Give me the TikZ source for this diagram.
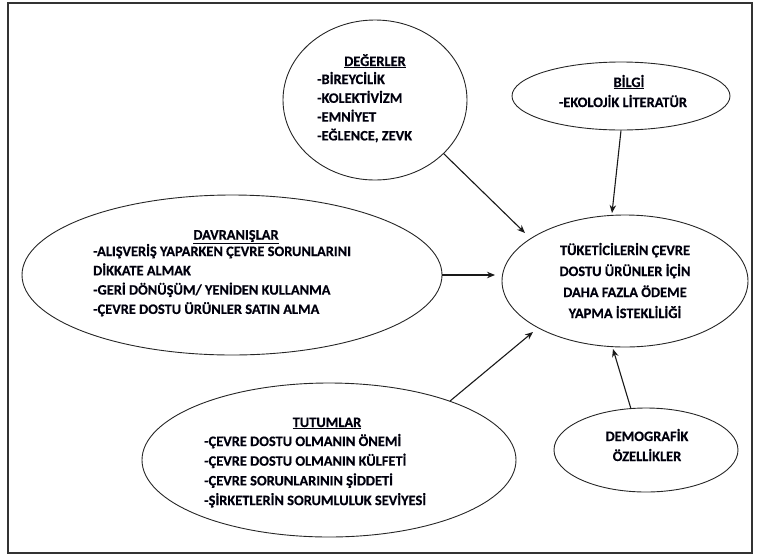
\documentclass[tikz,border=0pt]{standalone}
\usepackage{fontspec}
\setmainfont{Carlito}[BoldFeatures={FakeBold=0.5}]
\usetikzlibrary{shapes.geometric,arrows.meta}
\begin{document}
\begin{tikzpicture}[x=1pt,y=-1pt,
  bubble/.style={draw=black!85, line width=0.9pt, ellipse, inner sep=0pt},
  txt/.style={font=\fontsize{14.4}{17}\selectfont\bfseries, inner sep=0pt, text=black!95!blue},
  item/.style={txt, anchor=base west},
  head/.style={txt, anchor=base},
  link/.style={line width=1.1pt, draw=black!90, -{Stealth[length=8pt,width=6.5pt]}}]

\useasboundingbox (0,0) rectangle (761,558);
\draw[line width=1.6pt, black!80] (8,3) rectangle (752,553);

% ellipses
\node[bubble, minimum width=184pt, minimum height=160pt] (deg) at (375,100) {};
\node[bubble, minimum width=218pt, minimum height=68pt]  (bil) at (621,96) {};
\node[bubble, minimum width=420pt, minimum height=160pt] (dav) at (232,275) {};
\node[bubble, minimum width=246pt, minimum height=132pt] (cen) at (625,281) {};
\node[bubble, minimum width=374pt, minimum height=154pt] (tut) at (329,460) {};
\node[bubble, minimum width=184pt, minimum height=84pt]  (dem) at (646,450) {};

% arrow tips near the central ellipse
\coordinate (tipDeg) at (525,233);
\coordinate (tipBil) at (612,213);
\coordinate (tipDav) at (495,275);
\coordinate (tipTut) at (533,332);
\coordinate (tipDem) at (613,349);

\draw[link] (deg.-38.5) -- (tipDeg);
\draw[link] (bil.south) -- (tipBil);
\draw[link] (dav.east) -- (tipDav);
\draw[link] (tut.26.9) -- (tipTut);
\draw[link] (dem.110.9) -- (tipDem);

% DEĞERLER
\node[head] (degT) at (375,66) {\underline{DEĞERLER}};
\foreach \s [count=\i] in {-BİREYCİLİK,-KOLEKTİVİZM,-EMNİYET,{-EĞLENCE, ZEVK}}
  \node[item] (deg\i) at (317,{84+(\i-1)*18.8}) {\s};

% BİLGİ
\node[head] (bilT) at (629,87) {\underline{BİLGİ}};
\node[head] (bil1) at (623,107) {-EKOLOJİK LİTERATÜR};

% DAVRANIŞLAR
\node[head] (davT) at (236,239.5) {\underline{DAVRANIŞLAR}};
\foreach \s [count=\i] in {-ALIŞVERİŞ YAPARKEN ÇEVRE SORUNLARINI,DİKKATE ALMAK,-GERİ DÖNÜŞÜM/ YENİDEN KULLANMA,-ÇEVRE DOSTU ÜRÜNLER SATIN ALMA}
  \node[item] (dav\i) at (93,{256+(\i-1)*19.3}) {\s};

% central
\foreach \s [count=\i] in {TÜKETİCİLERİN ÇEVRE,DOSTU ÜRÜNLER İÇİN,DAHA FAZLA ÖDEME,YAPMA İSTEKLİLİĞİ}
  \node[head] (cen\i) at (625,{255+(\i-1)*21}) {\s};

% TUTUMLAR
\node[head] (tutT) at (327,427) {\underline{TUTUMLAR}};
\foreach \s [count=\i] in {-ÇEVRE DOSTU OLMANIN ÖNEMİ,-ÇEVRE DOSTU OLMANIN KÜLFETİ,-ÇEVRE SORUNLARININ ŞİDDETİ,-ŞİRKETLERİN SORUMLULUK SEVİYESİ}
  \node[item] (tut\i) at (204,{446+(\i-1)*19.7}) {\s};

% DEMOGRAFİK
\node[head] (dem1) at (647,441) {DEMOGRAFİK};
\node[head] (dem2) at (647,461) {ÖZELLİKLER};

\end{tikzpicture}
\end{document}
